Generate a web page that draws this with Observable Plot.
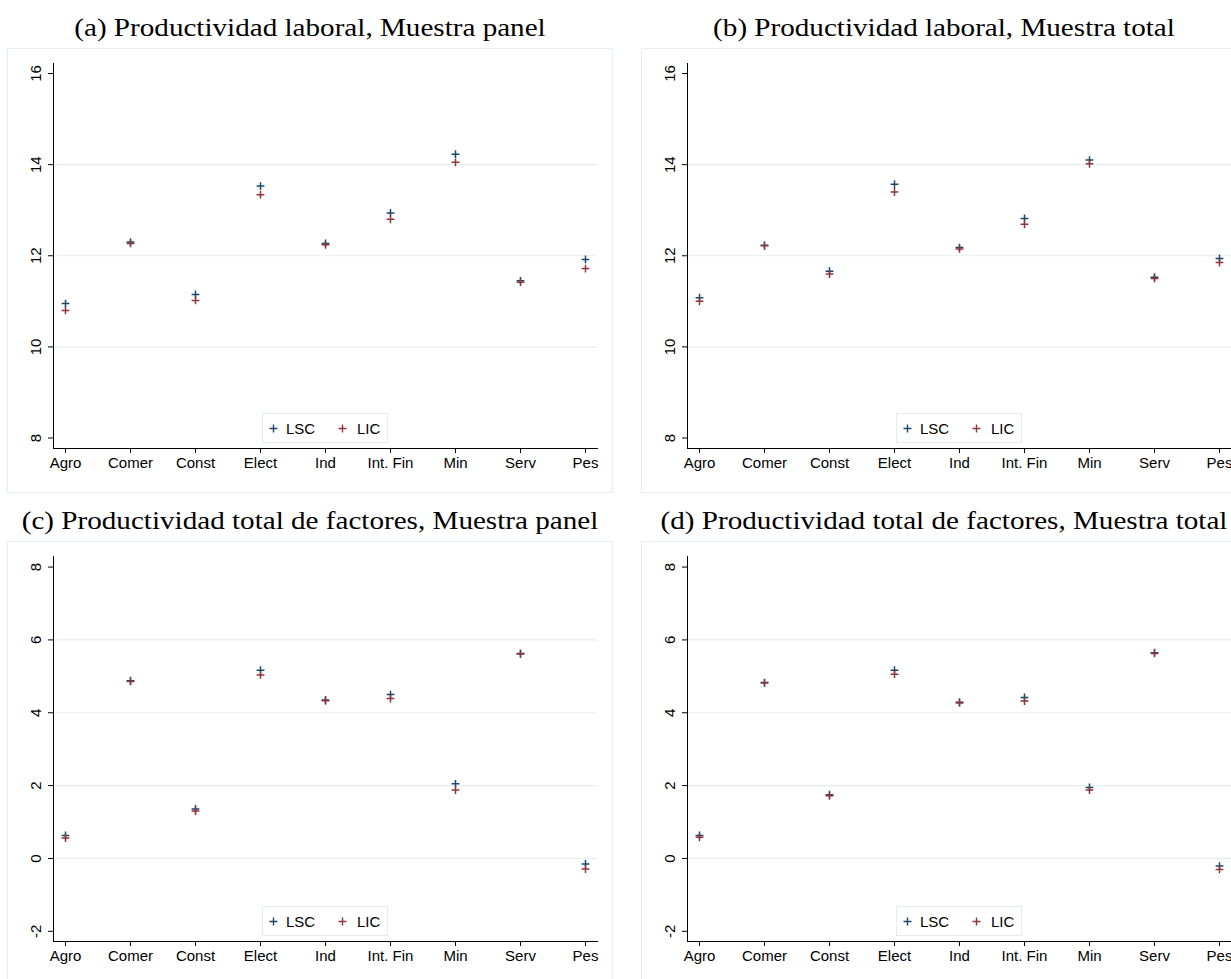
<!DOCTYPE html>
<html>
<head>
<meta charset="utf-8">
<script src="https://cdn.jsdelivr.net/npm/d3@7"></script>
<script src="https://cdn.jsdelivr.net/npm/@observablehq/plot@0.6"></script>
<style>
  body { margin: 0; background: #fff; }
  #root { position: relative; width: 1231px; height: 979px; overflow: hidden; background: #fff; }
  .title { position: absolute; width: 606px; text-align: center; white-space: nowrap;
           font-family: "Liberation Serif", "Times New Roman", serif; font-size: 26px; line-height: 26px; color: #000;
           transform: scaleX(1.12); transform-origin: 50% 50%; }
  .panel { position: absolute; width: 606px; height: 445px; }
  .panel svg { position: absolute; left: 0; top: 0; }
  .border { position: absolute; left: 0; top: 0; width: 606px; height: 445px; box-sizing: border-box;
            border: 1px solid #e6eef0; pointer-events: none; }
  .legend { position: absolute; left: 255px; top: 365px; width: 126px; height: 30px; box-sizing: border-box;
            border: 1px solid #e2ebee; background: #fff;
            font-family: "Liberation Sans", Arial, sans-serif; font-size: 15px; color: #000; }
  .legend span { position: absolute; top: 50%; transform: translateY(-50%); line-height: 15px; }
  .legend svg.mk { position: absolute; top: 10px; width: 9px; height: 9px; }
</style>
</head>
<body>
<div id="root"></div>
<script>
// ---- data ----
const sectores = ["Agro", "Comer", "Const", "Elect", "Ind", "Int. Fin", "Min", "Serv", "Pes"];
const series = ["LSC", "LIC"];
const colores = ["#1a476f", "#90353b"];

const plPanelLSC = [10.95, 12.30, 11.15, 13.53, 12.27, 12.94, 14.23, 11.45, 11.92];
const plPanelLIC = [10.80, 12.27, 11.02, 13.34, 12.24, 12.80, 14.05, 11.42, 11.72];
const plTotalLSC = [11.08, 12.23, 11.66, 13.57, 12.18, 12.82, 14.10, 11.53, 11.94];
const plTotalLIC = [11.00, 12.22, 11.60, 13.40, 12.15, 12.69, 14.02, 11.50, 11.85];
const ptfPanelLSC = [0.63, 4.88, 1.36, 5.17, 4.35, 4.50, 2.05, 5.63, -0.15];
const ptfPanelLIC = [0.56, 4.86, 1.30, 5.04, 4.33, 4.39, 1.88, 5.61, -0.29];
const ptfTotalLSC = [0.63, 4.83, 1.75, 5.17, 4.29, 4.42, 1.95, 5.65, -0.21];
const ptfTotalLIC = [0.58, 4.82, 1.72, 5.06, 4.27, 4.32, 1.88, 5.63, -0.30];

const ticksPL = [8, 10, 12, 14, 16];
const ticksPTF = [-2, 0, 2, 4, 6, 8];
const dominioPL = [7.77, 16.22];
const dominioPTF = [-2.28, 8.29];

const titulos = [
  "(a) Productividad laboral, Muestra panel",
  "(b) Productividad laboral, Muestra total",
  "(c) Productividad total de factores, Muestra panel",
  "(d) Productividad total de factores, Muestra total"
];

// ---- drawing ----
const plus = {
  draw(ctx, size) {
    const r = Math.sqrt(size / Math.PI);
    ctx.moveTo(-r, 0); ctx.lineTo(r, 0);
    ctx.moveTo(0, -r); ctx.lineTo(0, r);
  }
};

function makePlot(lsc, lic, yDomain, ticks) {
  const data = [];
  sectores.forEach((s, i) => {
    data.push({sector: s, serie: "LSC", v: lsc[i]});
    data.push({sector: s, serie: "LIC", v: lic[i]});
  });
  const inner = ticks.slice(1, -1);
  return Plot.plot({
    width: 606, height: 445,
    marginLeft: 46, marginRight: 16, marginTop: 15, marginBottom: 45,
    style: {fontFamily: "'Liberation Sans', Arial, sans-serif", fontSize: "15px", background: "transparent", color: "#000", overflow: "visible"},
    x: {type: "point", domain: sectores, padding: 0.137},
    y: {domain: yDomain},
    color: {domain: series, range: colores},
    marks: [
      Plot.ruleY(inner, {stroke: "#e4eef0", strokeWidth: 1.2}),
      Plot.frame({anchor: "left", stroke: "#000", strokeWidth: 1}),
      Plot.frame({anchor: "bottom", stroke: "#000", strokeWidth: 1}),
      Plot.axisX({tickSize: 5, tickPadding: 4, label: null, stroke: "#000"}),
      Plot.axisY({ticks, tickSize: 5, tickFormat: () => "", label: null, stroke: "#000"}),
      Plot.text(ticks, {y: d => d, frameAnchor: "left", dx: -17, rotate: -90,
                        textAnchor: "middle", lineAnchor: "middle", fill: "#000"}),
      Plot.dot(data, {x: "sector", y: "v", stroke: "serie", symbol: plus, r: 3.9, strokeWidth: 1.5})
    ]
  });
}

const root = document.getElementById("root");
const paneles = [
  {left: 7,   top: 48,  lsc: plPanelLSC,  lic: plPanelLIC,  dom: dominioPL,  ticks: ticksPL},
  {left: 641, top: 48,  lsc: plTotalLSC,  lic: plTotalLIC,  dom: dominioPL,  ticks: ticksPL},
  {left: 7,   top: 541, lsc: ptfPanelLSC, lic: ptfPanelLIC, dom: dominioPTF, ticks: ticksPTF},
  {left: 641, top: 541, lsc: ptfTotalLSC, lic: ptfTotalLIC, dom: dominioPTF, ticks: ticksPTF}
];

function marker(color, left) {
  return `<svg class="mk" style="left:${left}px" viewBox="0 0 9 9"><path d="M0.5,4.5H8.5M4.5,0.5V8.5" stroke="${color}" stroke-width="1.4" fill="none"/></svg>`;
}

paneles.forEach((p, k) => {
  const t = document.createElement("div");
  t.className = "title";
  t.style.left = p.left + "px";
  t.style.top = (p.top - 33) + "px";
  t.textContent = titulos[k];
  root.appendChild(t);

  const panel = document.createElement("div");
  panel.className = "panel";
  panel.style.left = p.left + "px";
  panel.style.top = p.top + "px";
  panel.appendChild(makePlot(p.lsc, p.lic, p.dom, p.ticks));

  const border = document.createElement("div");
  border.className = "border";
  panel.appendChild(border);

  const lg = document.createElement("div");
  lg.className = "legend";
  lg.innerHTML =
    marker(colores[0], 6) + `<span style="left:23px">${series[0]}</span>` +
    marker(colores[1], 75) + `<span style="left:94px">${series[1]}</span>`;
  panel.appendChild(lg);

  root.appendChild(panel);
});
</script>
</body>
</html>
